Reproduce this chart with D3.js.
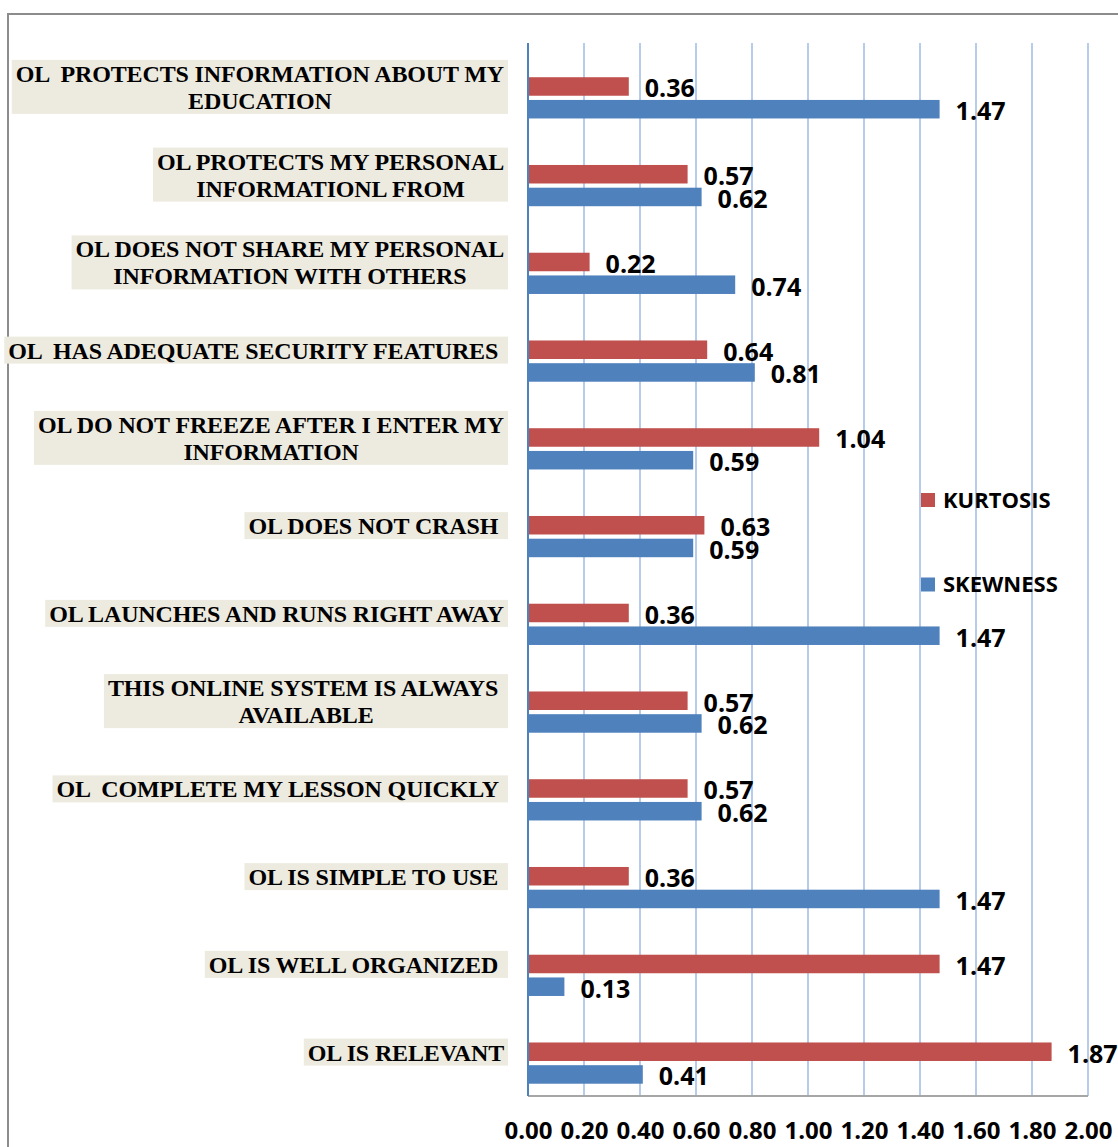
<!DOCTYPE html>
<html>
<head>
<meta charset="utf-8">
<script src="https://cdn.jsdelivr.net/npm/d3@7"></script>
<style>
  body { margin: 0; background: #fff; }
  .cat { font-family: "Liberation Serif", "Times New Roman", serif; font-weight: bold; font-size: 24px; white-space: pre; letter-spacing: -0.15px; }
  .num { font-family: "Open Sans", sans-serif; font-weight: bold; font-size: 25px; }
  .tick { font-family: "Open Sans", sans-serif; font-weight: bold; font-size: 24px; }
  .leg { font-family: "Open Sans", sans-serif; font-weight: bold; font-size: 22px; }
</style>
</head>
<body>
<div id="chart"></div>
<script>
// categories, top to bottom (line breaks as in the original labels)
const categories = [
  ["OL  PROTECTS INFORMATION ABOUT MY", "EDUCATION"],
  ["OL PROTECTS MY PERSONAL", "INFORMATIONL FROM"],
  ["OL DOES NOT SHARE MY PERSONAL", "INFORMATION WITH OTHERS"],
  ["OL  HAS ADEQUATE SECURITY FEATURES "],
  ["OL DO NOT FREEZE AFTER I ENTER MY", "INFORMATION"],
  ["OL DOES NOT CRASH "],
  ["OL LAUNCHES AND RUNS RIGHT AWAY"],
  ["THIS ONLINE SYSTEM IS ALWAYS ", "AVAILABLE"],
  ["OL  COMPLETE MY LESSON QUICKLY "],
  ["OL IS SIMPLE TO USE "],
  ["OL IS WELL ORGANIZED "],
  ["OL IS RELEVANT"]
];
const kurtosis = [0.36, 0.57, 0.22, 0.64, 1.04, 0.63, 0.36, 0.57, 0.57, 0.36, 1.47, 1.87];
const skewness = [1.47, 0.62, 0.74, 0.81, 0.59, 0.59, 1.47, 0.62, 0.62, 1.47, 0.13, 0.41];
const seriesNames = ["KURTOSIS", "SKEWNESS"];
const seriesColors = ["#C0504D", "#4F81BD"];
const ticks = [0, 0.2, 0.4, 0.6, 0.8, 1.0, 1.2, 1.4, 1.6, 1.8, 2.0];

const width = 1118, height = 1147;
const plot = { left: 528, right: 1088, top: 43, bottom: 1096 };
const labelRight = 508;

const svg = d3.select("#chart").append("svg")
  .attr("width", width)
  .attr("height", height);

// outer chart border (runs off the right and bottom edges)
svg.append("rect")
  .attr("x", 8).attr("y", 14)
  .attr("width", 1300).attr("height", 1300)
  .attr("fill", "none")
  .attr("stroke", "#8c8c8c")
  .attr("stroke-width", 2);

const x = d3.scaleLinear().domain([0, 2]).range([plot.left, plot.right]);
const y = d3.scaleBand().domain(d3.range(categories.length)).range([plot.top, plot.bottom]);
const bw = y.bandwidth();
// three slots per category in the original; the pair sits in the lower two
const sub = d3.scaleBand().domain(seriesNames).range([bw * 0.39, bw * 0.86]).paddingInner(0.185);

// gridlines
svg.append("g")
  .selectAll("line")
  .data(ticks.slice(1))
  .join("line")
  .attr("x1", d => x(d)).attr("x2", d => x(d))
  .attr("y1", plot.top).attr("y2", plot.bottom)
  .attr("stroke", "#B7CBEA")
  .attr("stroke-width", 2);

// bottom axis line
svg.append("line")
  .attr("x1", plot.left).attr("x2", x(2))
  .attr("y1", plot.bottom).attr("y2", plot.bottom)
  .attr("stroke", "#a6a6a6")
  .attr("stroke-width", 2);

// tick labels
const xAxis = svg.append("g")
  .attr("transform", `translate(0,${plot.bottom})`)
  .call(d3.axisBottom(x).tickValues(ticks).tickFormat(d3.format(".2f")).tickSize(0).tickPadding(26));
xAxis.select(".domain").remove();
xAxis.selectAll("text")
  .attr("class", "tick")
  .attr("fill", "#000")
  .attr("font-size", null)
  .attr("font-family", null);

// bars
const rows = categories.map((c, i) => ({ i, vals: [kurtosis[i], skewness[i]] }));
const rowG = svg.append("g").selectAll("g")
  .data(rows)
  .join("g")
  .attr("transform", d => `translate(0,${y(d.i)})`);

rowG.selectAll("rect")
  .data(d => d.vals.map((v, k) => ({ v, k })))
  .join("rect")
  .attr("x", x(0))
  .attr("y", d => sub(seriesNames[d.k]))
  .attr("width", d => x(d.v) - x(0))
  .attr("height", sub.bandwidth())
  .attr("fill", d => seriesColors[d.k]);

rowG.selectAll("text")
  .data(d => d.vals.map((v, k) => ({ v, k })))
  .join("text")
  .attr("class", "num")
  .attr("x", d => x(d.v) + 16)
  .attr("y", d => sub(seriesNames[d.k]) + sub.bandwidth() / 2 + 2)
  .attr("dy", "0.36em")
  .text(d => d3.format(".2f")(d.v));

// value axis (drawn over bars' left edge)
svg.append("line")
  .attr("x1", plot.left).attr("x2", plot.left)
  .attr("y1", plot.top).attr("y2", plot.bottom)
  .attr("stroke", "#4F81BD")
  .attr("stroke-width", 2);

// category labels with shaded boxes
const lineH = 27, pad = 4;
const labG = svg.append("g").selectAll("g")
  .data(categories)
  .join("g")
  .attr("transform", (d, i) => `translate(${labelRight},${y(i) + bw / 2})`);

labG.each(function(lines) {
  const g = d3.select(this);
  const n = lines.length;
  const texts = g.selectAll("text")
    .data(lines)
    .join("text")
    .attr("class", "cat")
    .attr("text-anchor", "middle")
    .attr("y", (d, j) => (j - (n - 1) / 2) * lineH)
    .attr("dy", "0.35em")
    .text(d => d);
  let w = 0;
  texts.each(function() { w = Math.max(w, this.getComputedTextLength()); });
  texts.attr("x", -pad - w / 2);
  g.insert("rect", "text")
    .attr("x", -w - 2 * pad)
    .attr("y", -n * lineH / 2)
    .attr("width", w + 2 * pad)
    .attr("height", n * lineH)
    .attr("fill", "#EDEBE0");
});

// legend
const legend = svg.append("g").selectAll("g")
  .data(seriesNames)
  .join("g")
  .attr("transform", (d, i) => `translate(921,${500 + i * 84.5})`);
legend.append("rect")
  .attr("x", 0).attr("y", -7)
  .attr("width", 14).attr("height", 14)
  .attr("fill", (d, i) => seriesColors[i]);
legend.append("text")
  .attr("class", "leg")
  .attr("x", 22)
  .attr("dy", "0.36em")
  .text(d => d);
</script>
</body>
</html>
